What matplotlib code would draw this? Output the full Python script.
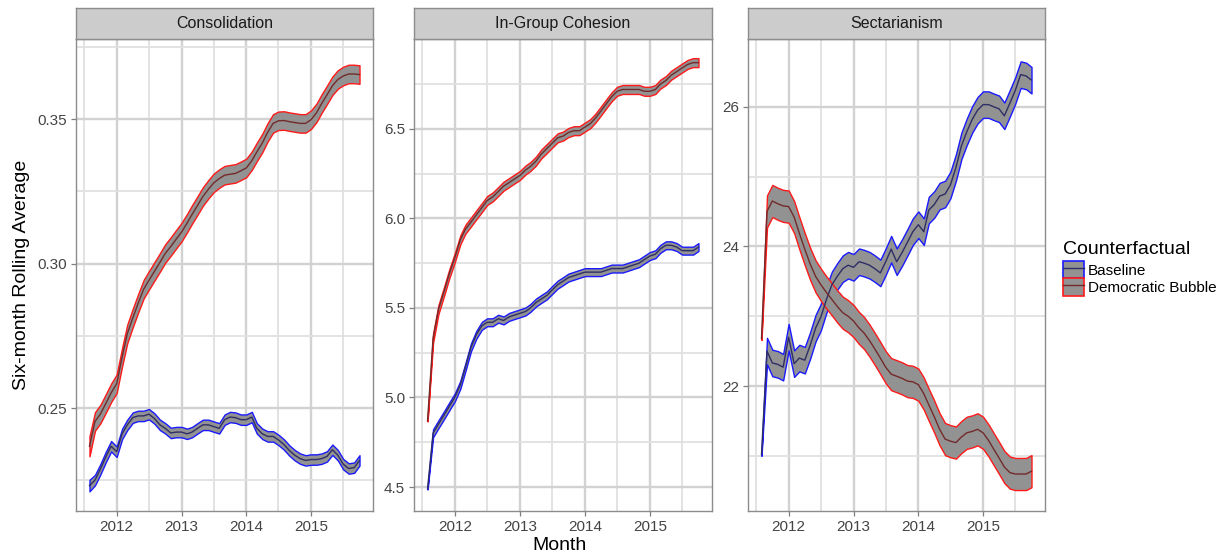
import numpy as np
import pandas as pd
import matplotlib
matplotlib.use("Agg")
import matplotlib.pyplot as plt
import matplotlib.dates as mdates
from matplotlib.patches import Patch
from matplotlib.lines import Line2D

plt.rcParams['font.family'] = ['Liberation Sans', 'DejaVu Sans']

months = pd.date_range('2011-08-01', '2015-10-01', freq='MS')

panels = ['Consolidation', 'In-Group Cohesion', 'Sectarianism']
series_names = ['Baseline', 'Democratic Bubble']

# Consolidation
cons_base = [0.2232, 0.2251, 0.2288, 0.2331, 0.2368,
             0.2349, 0.2411, 0.2442, 0.2467, 0.2473, 0.2473, 0.2479, 0.2464, 0.2442, 0.2430, 0.2414, 0.2417,
             0.2417, 0.2411, 0.2417, 0.2430, 0.2442, 0.2442, 0.2436, 0.2430, 0.2460, 0.2469, 0.2467, 0.2460,
             0.2460, 0.2469, 0.2430, 0.2411, 0.2402, 0.2402, 0.2390, 0.2374, 0.2353, 0.2337, 0.2325, 0.2319,
             0.2322, 0.2322, 0.2325, 0.2333, 0.2356, 0.2337, 0.2306, 0.2291, 0.2294, 0.2319]
cons_db = [0.2368, 0.2454, 0.2479, 0.2516, 0.2553,
           0.2584, 0.2677, 0.2757, 0.2812, 0.2862, 0.2911, 0.2942, 0.2973, 0.3004, 0.3035, 0.3059, 0.3084,
           0.3109, 0.3140, 0.3170, 0.3201, 0.3232, 0.3257, 0.3279, 0.3294, 0.3306, 0.3309, 0.3312, 0.3321,
           0.3331, 0.3356, 0.3386, 0.3417, 0.3454, 0.3485, 0.3494, 0.3495, 0.3491, 0.3488, 0.3485, 0.3485,
           0.3498, 0.3522, 0.3553, 0.3584, 0.3615, 0.3637, 0.3649, 0.3656, 0.3656, 0.3654]

# In-Group Cohesion
ingr_base = [4.49, 4.80, 4.85, 4.90, 4.95,
             5.00, 5.07, 5.17, 5.28, 5.35, 5.40, 5.42, 5.42, 5.44, 5.43, 5.45, 5.46,
             5.47, 5.48, 5.50, 5.53, 5.55, 5.57, 5.60, 5.63, 5.65, 5.67, 5.68, 5.69,
             5.70, 5.70, 5.70, 5.70, 5.71, 5.72, 5.72, 5.72, 5.73, 5.74, 5.75, 5.77,
             5.79, 5.80, 5.83, 5.85, 5.85, 5.84, 5.82, 5.82, 5.82, 5.84]
ingr_db = [4.87, 5.33, 5.49, 5.59, 5.69,
           5.78, 5.88, 5.94, 5.98, 6.02, 6.06, 6.10, 6.12, 6.15, 6.18, 6.20, 6.22,
           6.24, 6.27, 6.29, 6.32, 6.36, 6.39, 6.42, 6.45, 6.46, 6.48, 6.49, 6.49,
           6.51, 6.53, 6.56, 6.60, 6.64, 6.68, 6.71, 6.72, 6.72, 6.72, 6.72, 6.71,
           6.71, 6.72, 6.75, 6.77, 6.80, 6.82, 6.84, 6.86, 6.87, 6.87]

# Sectarianism
sect_base = [21.02, 22.50, 22.33, 22.31, 22.27,
             22.70, 22.32, 22.40, 22.37, 22.58, 22.83, 22.99, 23.24, 23.45, 23.57, 23.68, 23.73,
             23.70, 23.78, 23.76, 23.73, 23.68, 23.62, 23.78, 23.96, 23.78, 23.91, 24.06, 24.21,
             24.31, 24.21, 24.52, 24.60, 24.72, 24.75, 24.88, 25.13, 25.44, 25.64, 25.82, 25.95,
             26.03, 26.03, 26.00, 25.97, 25.87, 26.05, 26.23, 26.46, 26.44, 26.38]
sect_db = [22.68, 24.50, 24.65, 24.61, 24.58,
           24.57, 24.42, 24.19, 23.96, 23.75, 23.57, 23.45, 23.34, 23.24, 23.14, 23.05, 23.00,
           22.93, 22.83, 22.76, 22.65, 22.53, 22.40, 22.27, 22.17, 22.14, 22.11, 22.07, 22.06,
           22.02, 21.89, 21.73, 21.56, 21.38, 21.24, 21.21, 21.19, 21.27, 21.33, 21.35, 21.38,
           21.33, 21.22, 21.10, 20.97, 20.84, 20.76, 20.74, 20.74, 20.74, 20.78]

# ribbon half widths (first point, rest)
hw_first = {'cons': (0.0020, 0.0035), 'ingr': (0.004, 0.004), 'sect': (0.02, 0.02)}
hw_rest = {'cons': (0.0018, 0.0032), 'ingr': (0.022, 0.025), 'sect': (0.19, 0.23)}

y_ticks = [[0.25, 0.30, 0.35], [4.5, 5.0, 5.5, 6.0, 6.5], [22, 24, 26]]
y_minor = [[0.225, 0.275, 0.325, 0.375], [4.75, 5.25, 5.75, 6.25, 6.75], [21, 23, 25]]
y_lims = [(0.2144, 0.3777), (4.366, 7.002), (20.21, 26.97)]

data = {'cons': (cons_base, cons_db), 'ingr': (ingr_base, ingr_db), 'sect': (sect_base, sect_db)}
keys = ['cons', 'ingr', 'sect']

edge_cols = ['#1a1aff', '#ff1a1a']
mid_cols = ['#2e2e66', '#732a2a']
fill_col = '#929292'

W, H = 1226, 558
fig = plt.figure(figsize=(W / 100, H / 100), dpi=100)

px_left = [76, 414, 748]
px_right = [373, 712, 1045]
p_top, p_bot, s_top = 39, 511, 8

x0 = months[0] - (months[-1] - months[0]) * 0.05
x1 = months[-1] + (months[-1] - months[0]) * 0.05

for i, key in enumerate(keys):
    l, r = px_left[i], px_right[i]
    ax = fig.add_axes([l / W, (H - p_bot) / H, (r - l) / W, (p_bot - p_top) / H])
    for j in range(2):
        vals = np.array(data[key][j])
        hw = np.full(len(vals), hw_rest[key][j])
        hw[0] = hw_first[key][j]
        ax.fill_between(months, vals - hw, vals + hw, facecolor=fill_col,
                        edgecolor=edge_cols[j], linewidth=1.0, zorder=3)
        ax.plot(months, vals, color=mid_cols[j], linewidth=1.0, zorder=4)

    ax.set_xlim(x0, x1)
    ax.set_ylim(*y_lims[i])
    ax.xaxis.set_major_locator(mdates.YearLocator())
    ax.xaxis.set_major_formatter(mdates.DateFormatter('%Y'))
    ax.xaxis.set_minor_locator(mdates.MonthLocator(bymonth=7))
    ax.set_yticks(y_ticks[i])
    ax.set_yticks(y_minor[i], minor=True)
    if i == 0:
        ax.set_yticklabels(['%.2f' % v for v in y_ticks[i]])
    elif i == 1:
        ax.set_yticklabels(['%.1f' % v for v in y_ticks[i]])
    ax.grid(which='major', color='#d2d2d2', linewidth=1.7, zorder=0)
    ax.grid(which='minor', color='#e0e0e0', linewidth=1.3, zorder=0)
    ax.set_axisbelow(True)
    ax.tick_params(which='major', length=3.5, width=0.9, color='#7f7f7f',
                   labelsize=11, labelcolor='#444444', pad=3)
    ax.tick_params(which='minor', length=0)
    for sp in ax.spines.values():
        sp.set_color('#8c8c8c')
        sp.set_linewidth(1.0)

    sax = fig.add_axes([l / W, (H - p_top) / H, (r - l) / W, (p_top - s_top) / H])
    sax.set_facecolor('#cccccc')
    sax.set_xticks([])
    sax.set_yticks([])
    for sp in sax.spines.values():
        sp.set_color('#8c8c8c')
        sp.set_linewidth(1.0)
    sax.text(0.5, 0.5, panels[i], ha='center', va='center', fontsize=11.5,
             color='#1a1a1a', transform=sax.transAxes)

fig.text(22 / W, 1 - 275 / H, 'Six-month Rolling Average', rotation=90,
         ha='center', va='center', fontsize=14)
fig.text(560 / W, 1 - 546 / H, 'Month', ha='center', va='center', fontsize=14)

handles = []
for j in range(2):
    handles.append((Patch(facecolor=fill_col, edgecolor=edge_cols[j], linewidth=1.2),
                    Line2D([], [], color=mid_cols[j], linewidth=1.0)))
leg = fig.legend(handles, series_names, title='Counterfactual', loc='upper left',
                 bbox_to_anchor=(1063 / W, 1 - 241 / H), frameon=False,
                 fontsize=11, title_fontsize=14, handlelength=1.35,
                 handleheight=1.4, handletextpad=0.3, labelspacing=0.0,
                 borderaxespad=0, borderpad=0)
leg._legend_box.align = 'left'
leg._legend_box.sep = 2

fig.savefig('out.png', dpi=100)
